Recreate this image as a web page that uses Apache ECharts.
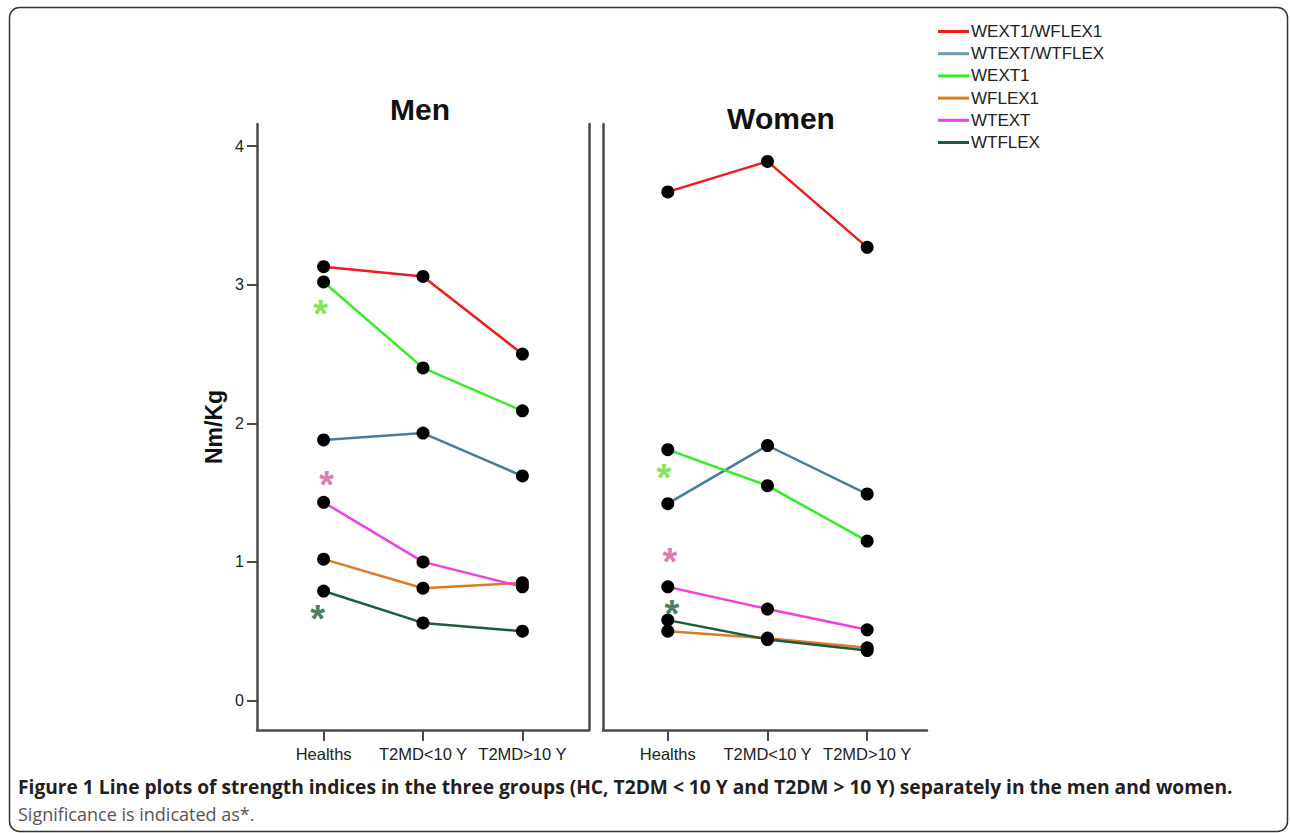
<!DOCTYPE html>
<html>
<head>
<meta charset="utf-8">
<script src="https://cdn.jsdelivr.net/npm/echarts@6/dist/echarts.min.js"></script>
<style>
  html, body { margin: 0; padding: 0; background: #fff; }
  #chart { width: 1290px; height: 833px; }
</style>
</head>
<body>
<div id="chart"></div>
<script>
const groups = ['Healths', 'T2MD<10 Y', 'T2MD>10 Y'];
const names = ['WEXT1/WFLEX1', 'WTEXT/WTFLEX', 'WEXT1', 'WFLEX1', 'WTEXT', 'WTFLEX'];
const yTicks = [0, 1, 2, 3, 4];

// men
const menExtFlex1 = [3.13, 3.06, 2.50];
const menTextTflex = [1.88, 1.93, 1.62];
const menExt1 = [3.02, 2.40, 2.09];
const menFlex1 = [1.02, 0.81, 0.85];
const menText = [1.43, 1.00, 0.82];
const menTflex = [0.79, 0.56, 0.50];

// women
const womenExtFlex1 = [3.67, 3.89, 3.27];
const womenTextTflex = [1.42, 1.84, 1.49];
const womenExt1 = [1.81, 1.55, 1.15];
const womenFlex1 = [0.50, 0.45, 0.38];
const womenText = [0.82, 0.66, 0.51];
const womenTflex = [0.58, 0.44, 0.36];

// significance stars: [x offset from group, value]
const menStars = [[-0.03, 2.83], [0.03, 1.60], [-0.06, 0.63]];
const womenStars = [[-0.04, 1.65], [0.02, 1.04], [0.04, 0.67]];

const colors = ['#ee1c1c', '#4a7d93', '#33ee22', '#dd7a22', '#f43fe0', '#1d5c3a'];
const legendColors = ['#ee1c1c', '#7099ab', '#33ee22', '#dd7a22', '#f43fe0', '#1d5c3a'];
const starColors = ['#66dd22', '#d4589c', '#1b5a36'];

const chart = echarts.init(document.getElementById('chart'), null, { renderer: 'svg' });

const axisColor = '#4a4a4a';
const labelFont = 'Liberation Sans, Arial, sans-serif';

function xAxisFor(grid, min, max) {
  return {
    type: 'value', gridIndex: grid, min: min, max: max,
    axisLine: { show: true, onZero: false, lineStyle: { color: axisColor, width: 2.5 } },
    axisTick: { show: true, customValues: [0, 1, 2], length: 11, lineStyle: { color: axisColor, width: 2 } },
    axisLabel: {
      customValues: [0, 1, 2], formatter: v => groups[v], margin: 15,
      color: '#222', fontSize: 16.5, fontFamily: labelFont
    },
    splitLine: { show: false }
  };
}

function lineSeries(name, values, color, grid) {
  return {
    type: 'line', name: name, xAxisIndex: grid, yAxisIndex: grid === 0 ? 0 : 2,
    data: values.map((v, i) => [i, v]),
    symbol: 'circle', symbolSize: 13,
    itemStyle: { color: '#000' },
    lineStyle: { color: color, width: 2.5 },
    emphasis: { disabled: true },
    z: 3
  };
}

function starSeries(stars, grid) {
  return {
    type: 'scatter', xAxisIndex: grid, yAxisIndex: grid === 0 ? 0 : 2,
    symbolSize: 1, itemStyle: { color: 'transparent' },
    data: stars.map((s, i) => ({
      value: s,
      label: { color: starColors[i] }
    })),
    label: {
      show: true, position: 'inside', formatter: '*', offset: [0, 6],
      fontSize: 38, fontWeight: 'bold', fontFamily: labelFont
    },
    silent: true, z: 4
  };
}

const menData = [menExtFlex1, menTextTflex, menExt1, menFlex1, menText, menTflex];
const womenData = [womenExtFlex1, womenTextTflex, womenExt1, womenFlex1, womenText, womenTflex];

const series = [];
menData.forEach((d, i) => series.push(lineSeries(names[i], d, colors[i], 0)));
womenData.forEach((d, i) => series.push(lineSeries(names[i], d, colors[i], 1)));
series.push(starSeries(menStars, 0));
series.push(starSeries(womenStars, 1));

const yMin = -0.213, yMax = 4.16;

const option = {
  backgroundColor: '#fff',
  animation: false,
  title: [
    { text: 'Men', left: 415, top: 89, textAlign: 'center',
      textStyle: { fontSize: 30, fontWeight: 'bold', color: '#111', fontFamily: labelFont } },
    { text: 'Women', left: 776, top: 98, textAlign: 'center',
      textStyle: { fontSize: 30, fontWeight: 'bold', color: '#111', fontFamily: labelFont } }
  ],
  legend: {
    orient: 'vertical', left: 938, top: 23, padding: 0,
    itemWidth: 31, itemHeight: 3, itemGap: 5.2,
    selectedMode: false,
    textStyle: { fontSize: 17, color: '#222', fontFamily: labelFont, padding: [0, 0, 0, -3] },
    data: names.map((n, i) => ({ name: n, icon: 'rect', itemStyle: { color: legendColors[i] } }))
  },
  grid: [
    { left: 257, top: 124, width: 332, height: 606 },
    { left: 603, top: 124, width: 324, height: 606 }
  ],
  xAxis: [xAxisFor(0, -0.67, 2.67), xAxisFor(1, -0.65, 2.6)],
  yAxis: [
    {
      type: 'value', gridIndex: 0, min: yMin, max: yMax,
      name: 'Nm/Kg', nameLocation: 'middle', nameGap: 32, nameRotate: 90,
      nameTextStyle: { fontSize: 23, fontWeight: 'bold', color: '#111', fontFamily: labelFont },
      axisLine: { show: true, onZero: false, lineStyle: { color: axisColor, width: 2.5 } },
      axisTick: { show: true, customValues: yTicks, length: 10, lineStyle: { color: axisColor, width: 2 } },
      axisLabel: { customValues: yTicks, margin: 13, color: '#222', fontSize: 16, fontFamily: labelFont },
      splitLine: { show: false }
    },
    {
      type: 'value', gridIndex: 0, position: 'right', min: yMin, max: yMax,
      axisLine: { show: true, onZero: false, lineStyle: { color: axisColor, width: 2.5 } },
      axisTick: { show: false }, axisLabel: { show: false }, splitLine: { show: false }
    },
    {
      type: 'value', gridIndex: 1, min: yMin, max: yMax,
      axisLine: { show: true, onZero: false, lineStyle: { color: axisColor, width: 2.5 } },
      axisTick: { show: false }, axisLabel: { show: false }, splitLine: { show: false }
    }
  ],
  graphic: [
    {
      type: 'rect', silent: true,
      shape: { x: 9.5, y: 7.5, width: 1278, height: 824, r: 10 },
      style: { fill: 'none', stroke: '#333', lineWidth: 1.5 }
    },
    {
      type: 'text', left: 18, top: 777,
      style: {
        text: 'Figure 1 Line plots of strength indices in the three groups (HC, T2DM < 10 Y and T2DM > 10 Y) separately in the men and women.',
        font: 'bold 19.2px "Open Sans", sans-serif', fill: '#231f20'
      }
    },
    {
      type: 'text', left: 18, top: 805,
      style: {
        text: 'Significance is indicated as*.',
        font: '18px "Open Sans", sans-serif', fill: '#555'
      }
    }
  ],
  series: series
};

chart.setOption(option);
window.addEventListener('resize', () => chart.resize());
</script>
</body>
</html>
